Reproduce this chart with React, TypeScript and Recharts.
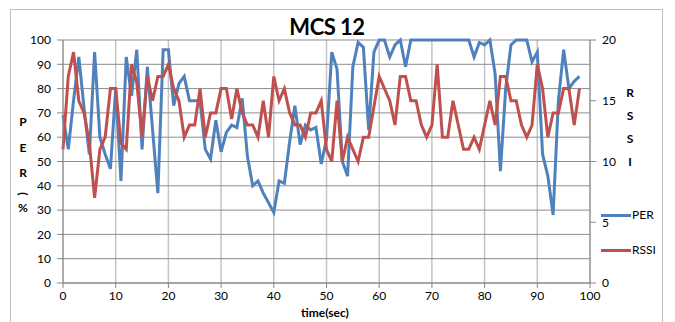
import { LineChart, Line, XAxis, YAxis, CartesianGrid } from "recharts";

const timeSec = [
  0, 1, 2, 3, 4, 5, 6, 7, 8, 9, 10, 11, 12, 13, 14, 15, 16, 17, 18, 19,
  20, 21, 22, 23, 24, 25, 26, 27, 28, 29, 30, 31, 32, 33, 34, 35, 36, 37, 38, 39,
  40, 41, 42, 43, 44, 45, 46, 47, 48, 49, 50, 51, 52, 53, 54, 55, 56, 57, 58, 59,
  60, 61, 62, 63, 64, 65, 66, 67, 68, 69, 70, 71, 72, 73, 74, 75, 76, 77, 78, 79,
  80, 81, 82, 83, 84, 85, 86, 87, 88, 89, 90, 91, 92, 93, 94, 95, 96, 97, 98,
];

const perValues = [
  69, 55, 75, 93, 72, 53, 95, 60, 53, 47, 80, 42, 93, 77, 96, 55, 89, 63, 37, 96,
  96, 73, 82, 85, 75, 75, 75, 55, 51, 67, 54, 62, 65, 64, 76, 52, 40, 42, 37, 33,
  29, 42, 41, 58, 73, 57, 65, 63, 64, 49, 59, 95, 88, 50, 44, 89, 99, 97, 63, 95,
  100, 100, 93, 98, 100, 89, 100, 100, 100, 100, 100, 100, 100, 100, 100, 100, 100, 100, 93, 99,
  98, 100, 86, 46, 80, 98, 100, 100, 100, 91, 95, 53, 44, 28, 75, 96, 80, 83, 85,
];

const rssiValues = [
  11, 17, 19, 15, 14, 11.5, 7, 11, 12, 16, 16, 11.5, 11, 18, 16.5, 12, 17, 15, 17, 17,
  18, 16, 15, 12, 13, 13, 16, 12, 14, 14, 16, 16, 13.5, 16, 14, 13, 13, 12, 15, 12,
  17, 15, 16, 14, 13, 13, 12, 14, 14, 15, 11, 10, 15, 10, 12, 11, 10, 12, 12, 14.5,
  17, 16, 15, 13, 17, 17, 15, 15, 13, 12, 13, 18, 12, 12, 15, 13, 11, 11, 12, 11,
  13, 15, 13, 17, 17, 15, 15, 13, 12, 13, 18, 16, 12, 14, 14, 16, 16, 13, 16,
];

const xTicks = [0, 10, 20, 30, 40, 50, 60, 70, 80, 90, 100];
const perTicks = [0, 10, 20, 30, 40, 50, 60, 70, 80, 90, 100];
const rssiTicks = [0, 5, 10, 15, 20];

const rows = timeSec.map((t, i) => ({ t, per: perValues[i], rssi: rssiValues[i] }));

const FONT = "Lato, 'Open Sans', sans-serif";
const BLUE = "#4F81BD";
const RED = "#C0504D";

// one character per line, like the stacked axis titles
const stacked = (letters: string[], left: number, tops: number[], turn: boolean[] = []) =>
  letters.map((ch, i) => (
    <div
      key={i}
      style={{
        position: "absolute",
        left,
        top: tops[i],
        width: 12,
        textAlign: "center",
        fontWeight: 700,
        fontSize: 12,
        lineHeight: "12px",
        transform: turn[i] ? "rotate(90deg)" : undefined,
      }}
    >
      {ch}
    </div>
  ));

export default function App() {
  const tickStyle = { fontSize: 12, fill: "#000", fontFamily: FONT };
  return (
    <div
      style={{
        position: "absolute",
        left: 0,
        top: 0,
        width: 675,
        height: 322,
        background: "#fff",
        fontFamily: FONT,
        overflow: "hidden",
      }}
    >
      <div
        style={{
          position: "absolute",
          left: 10,
          top: 9,
          width: 651,
          height: 330,
          border: "1px solid #bfbfbf",
        }}
      />
      <LineChart
        width={675}
        height={322}
        data={rows}
        margin={{ top: 40, right: 0, bottom: 0, left: 0 }}
      >
        <CartesianGrid yAxisId="per" horizontal={false} stroke="#c4c4c4" strokeWidth={1.5} />
        <CartesianGrid yAxisId="per" vertical={false} stroke="#8c8c8c" strokeWidth={1} />
        <XAxis
          dataKey="t"
          type="number"
          domain={[0, 100]}
          ticks={xTicks}
          height={39}
          tick={tickStyle}
          tickSize={5}
          tickMargin={3}
          stroke="#868686"
        />
        <YAxis
          yAxisId="per"
          domain={[0, 100]}
          ticks={perTicks}
          width={63}
          tick={tickStyle}
          tickSize={6}
          tickMargin={6}
          stroke="#868686"
        />
        <YAxis
          yAxisId="rssi"
          orientation="right"
          domain={[0, 20]}
          ticks={rssiTicks}
          width={85}
          tick={tickStyle}
          tickSize={6}
          tickMargin={6}
          stroke="#868686"
        />
        <Line
          yAxisId="per"
          type="linear"
          dataKey="per"
          stroke={BLUE}
          strokeWidth={3}
          dot={false}
          isAnimationActive={false}
        />
        <Line
          yAxisId="rssi"
          type="linear"
          dataKey="rssi"
          stroke={RED}
          strokeWidth={3}
          dot={false}
          isAnimationActive={false}
        />
      </LineChart>
      <div
        style={{
          position: "absolute",
          left: 0,
          width: 654,
          top: 14,
          textAlign: "center",
          fontWeight: 700,
          fontSize: 22,
          lineHeight: "26px",
          letterSpacing: -0.5,
        }}
      >
        MCS 12
      </div>
      <div
        style={{
          position: "absolute",
          left: 0,
          width: 650,
          top: 306,
          textAlign: "center",
          fontWeight: 700,
          fontSize: 12,
          lineHeight: "14px",
        }}
      >
        time(sec)
      </div>
      {stacked(["P", "E", "R", "(", "%"], 17, [116, 142, 167, 188, 202], [false, false, false, true, false])}
      {stacked(["R", "S", "S", "I"], 624, [87, 110, 133, 156])}
      <div style={{ position: "absolute", left: 601, top: 214, width: 30, height: 3, background: BLUE }} />
      <div style={{ position: "absolute", left: 632, top: 208, fontSize: 12, lineHeight: "14px" }}>PER</div>
      <div style={{ position: "absolute", left: 601, top: 249, width: 30, height: 3, background: RED }} />
      <div style={{ position: "absolute", left: 632, top: 243, fontSize: 12, lineHeight: "14px" }}>RSSI</div>
    </div>
  );
}
